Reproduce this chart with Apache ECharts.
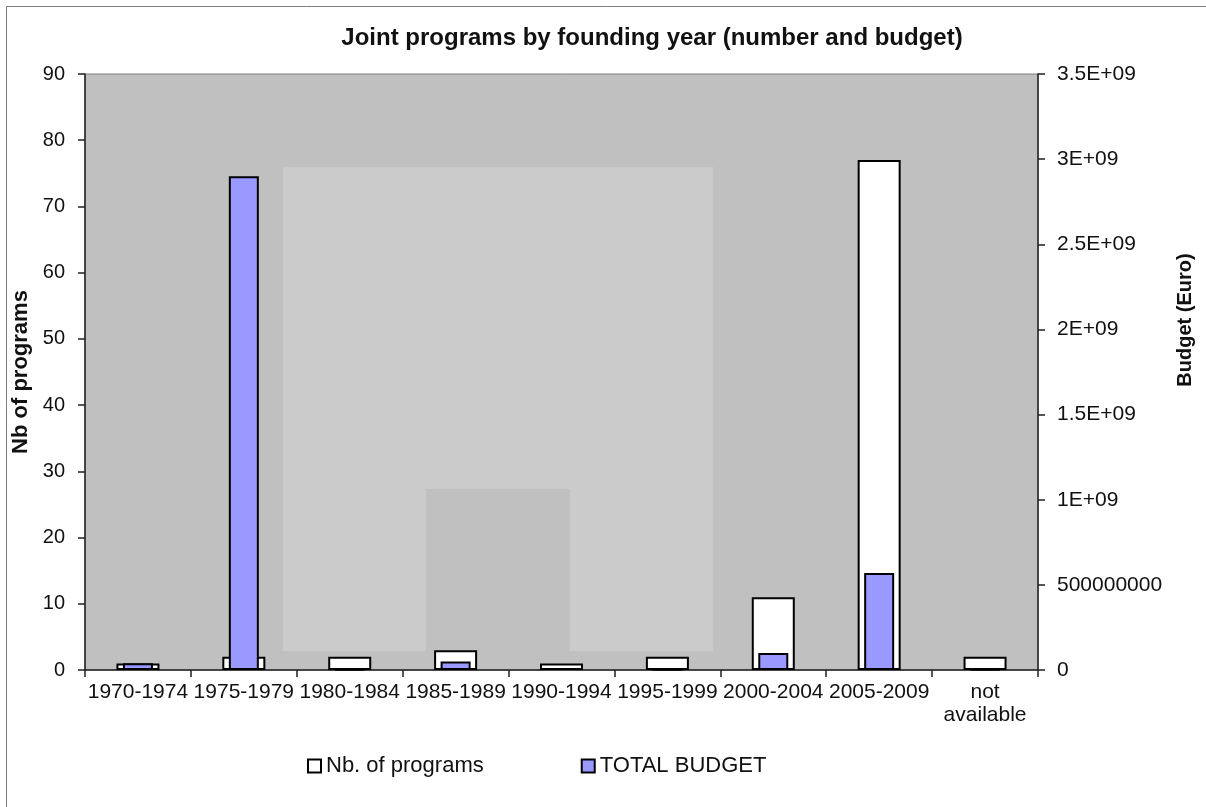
<!DOCTYPE html>
<html>
<head>
<meta charset="utf-8">
<style>
    html, body {
        margin: 0;
        padding: 0;
        background: #ffffff;
    }

    #chart {
        width: 1206px;
        height: 807px;
    }
</style>
<script src="https://cdn.jsdelivr.net/npm/echarts@6/dist/echarts.min.js"></script>
</head>
<body>
<div id="chart"></div>
<script>
// data
var periods = ['1970-1974', '1975-1979', '1980-1984', '1985-1989', '1990-1994',
    '1995-1999', '2000-2004', '2005-2009', 'not\navailable'];
var nbPrograms = [1, 2, 2, 3, 1, 2, 11, 77, 2];
var totalBudget = [4.0e7, 2.9e9, 3e6, 5.0e7, null, 3e6, 1.0e8, 5.7e8, 3e6];
var leftTicks = { min: 0, max: 90, step: 10 };
var rightTicks = { min: 0, max: 3.5e9, step: 5e8 };

var font = 'Liberation Sans, Arial, sans-serif';

function budgetLabel(v) {
    // Excel-like general format
    if (v === 0) return '0';
    if (v < 1e9) return String(v);
    return (v / 1e9) + 'E+09';
}

var chart = echarts.init(document.getElementById('chart'));

var option = {
    animation: false,
    backgroundColor: '#ffffff',
    textStyle: {
        fontFamily: font
    },
    title: {
        text: 'Joint programs by founding year (number and budget)',
        left: 647,
        textAlign: 'center',
        top: 21,
        textStyle: {
            fontFamily: font,
            fontSize: 24,
            fontWeight: 'bold',
            color: '#111'
        }
    },
    // frame around the chart and the pale patches in the plot area
    graphic: [
        {
            type: 'rect',
            left: 4,
            top: 4,
            shape: { width: 1300, height: 900 },
            style: { fill: 'none', stroke: '#7f7f7f', lineWidth: 1 },
            z: 0
        },
        {
            type: 'rect',
            left: 283,
            top: 167,
            shape: { width: 430, height: 484 },
            style: { fill: '#cbcbcb' },
            z: 1
        },
        {
            type: 'rect',
            left: 426,
            top: 489,
            shape: { width: 144, height: 162 },
            style: { fill: '#c0c0c0' },
            z: 1
        }
    ],
    legend: {
        left: 302,
        top: 750,
        itemWidth: 13,
        itemHeight: 13,
        itemGap: 97,
        icon: 'rect',
        textStyle: {
            fontFamily: font,
            fontSize: 22,
            color: '#111'
        },
        data: ['Nb. of programs', 'TOTAL BUDGET']
    },
    grid: {
        left: 85,
        right: 168,
        top: 74,
        bottom: 137,
        show: true,
        backgroundColor: '#c0c0c0',
        borderColor: '#808080',
        borderWidth: 1
    },
    xAxis: [
        {
            type: 'category',
            data: periods,
            axisLine: { lineStyle: { color: '#222', width: 1.5 } },
            axisTick: { show: true, length: 7, lineStyle: { color: '#222', width: 1.5 } },
            axisLabel: {
                margin: 11,
                fontSize: 21,
                color: '#111',
                lineHeight: 23,
                interval: 0
            }
        },
        {
            type: 'category',
            data: periods,
            show: false
        }
    ],
    yAxis: [
        {
            type: 'value',
            min: leftTicks.min,
            max: leftTicks.max,
            interval: leftTicks.step,
            name: 'Nb of programs',
            nameLocation: 'middle',
            nameGap: 44,
            nameTextStyle: {
                fontFamily: font,
                fontSize: 22,
                fontWeight: 'bold',
                color: '#111'
            },
            splitLine: { show: false },
            axisLine: { show: true, lineStyle: { color: '#222', width: 1.5 } },
            axisTick: { show: true, length: 7, lineStyle: { color: '#222', width: 1.5 } },
            axisLabel: {
                margin: 20,
                fontSize: 20,
                color: '#111'
            }
        },
        {
            type: 'value',
            position: 'right',
            min: rightTicks.min,
            max: rightTicks.max,
            interval: rightTicks.step,
            name: 'Budget (Euro)',
            nameLocation: 'middle',
            nameGap: 137,
            nameTextStyle: {
                fontFamily: font,
                fontSize: 20,
                fontWeight: 'bold',
                color: '#111',
                padding: [0, 0, 0, 104]
            },
            splitLine: { show: false },
            axisLine: { show: true, lineStyle: { color: '#222', width: 1.5 } },
            axisTick: { show: true, length: 7, lineStyle: { color: '#222', width: 1.5 } },
            axisLabel: {
                margin: 19,
                fontSize: 21,
                color: '#111',
                formatter: budgetLabel
            }
        }
    ],
    series: [
        {
            name: 'Nb. of programs',
            type: 'bar',
            xAxisIndex: 0,
            yAxisIndex: 0,
            barWidth: 43,
            data: nbPrograms,
            itemStyle: {
                color: '#ffffff',
                borderColor: '#000000',
                borderWidth: 2
            },
            z: 2
        },
        {
            name: 'TOTAL BUDGET',
            type: 'bar',
            xAxisIndex: 1,
            yAxisIndex: 1,
            barWidth: 30,
            data: totalBudget,
            itemStyle: {
                color: '#9999ff',
                borderColor: '#000000',
                borderWidth: 2
            },
            z: 3
        }
    ]
};

chart.setOption(option);
</script>
</body>
</html>
